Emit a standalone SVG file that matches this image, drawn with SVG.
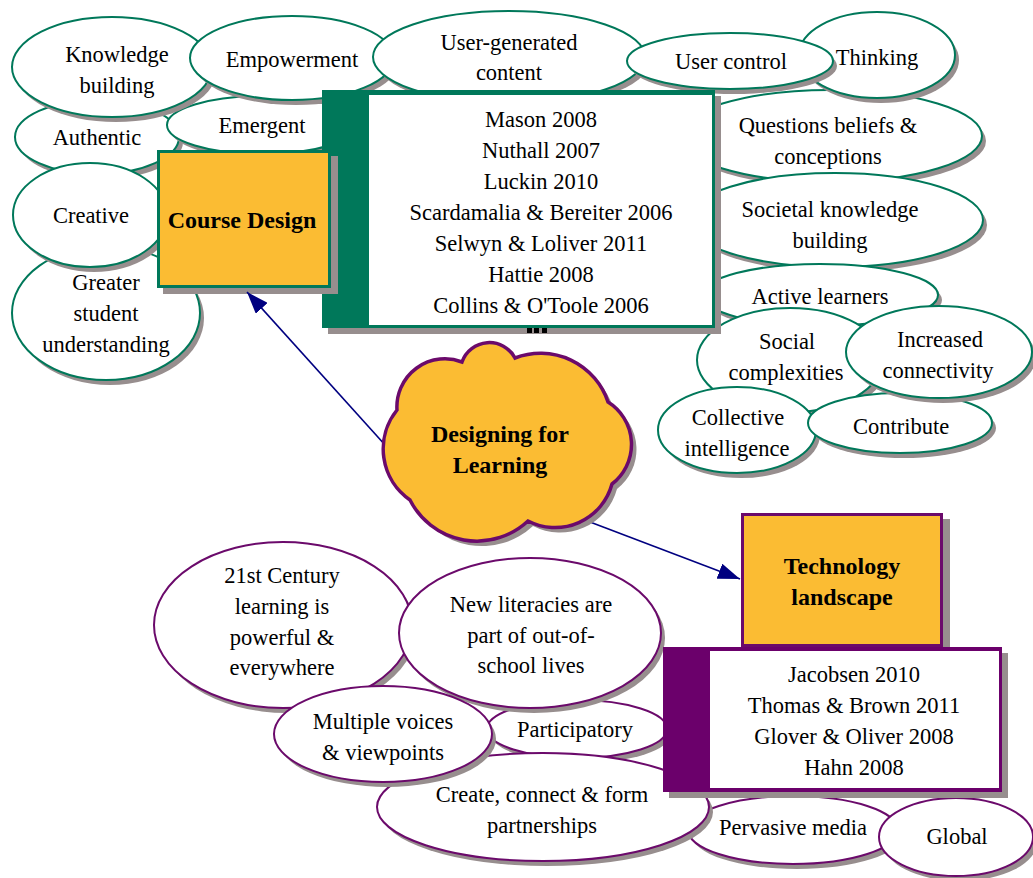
<svg xmlns="http://www.w3.org/2000/svg" width="1033" height="878" viewBox="0 0 1033 878">
<defs>
<style>
.eg{fill:#fff;stroke:#00785A;stroke-width:2}
.ep{fill:#fff;stroke:#6B0A6B;stroke-width:2}
.sh{fill:#978E8E}
.t{font-family:"Liberation Serif","Times New Roman",serif;font-size:22.5px;text-anchor:middle;fill:#000}
.b{font-weight:bold;font-size:24px}
.con{stroke:#000080;stroke-width:1.6;fill:none}
</style>
<marker id="ah" viewBox="0 0 22 16" refX="22" refY="8" markerWidth="22" markerHeight="16" markerUnits="userSpaceOnUse" orient="auto">
<path d="M0,0 L22,8 L0,16 Z" fill="#000080"/>
</marker>
</defs>
<rect width="1033" height="878" fill="#fff"/>

<g id="n-authentic"><ellipse class="sh" cx="101" cy="142" rx="82" ry="37"/><ellipse class="eg" cx="97" cy="137" rx="82" ry="37"/><text class="t" x="97" y="145">Authentic</text></g>
<g id="n-emergent"><ellipse class="sh" cx="266" cy="130" rx="95" ry="29"/><ellipse class="eg" cx="262" cy="125" rx="95" ry="29"/><text class="t" x="262" y="133">Emergent</text></g>
<g id="n-knowledge"><ellipse class="sh" cx="116" cy="72" rx="100" ry="50"/><ellipse class="eg" cx="112" cy="67" rx="100" ry="50"/><text class="t" x="117" y="62">Knowledge</text><text class="t" x="117" y="93">building</text></g>
<g id="n-empowerment"><ellipse class="sh" cx="296" cy="63" rx="102" ry="42"/><ellipse class="eg" cx="292" cy="58" rx="102" ry="42"/><text class="t" x="292" y="67">Empowerment</text></g>
<g id="n-greater"><ellipse class="sh" cx="110" cy="318" rx="94" ry="67"/><ellipse class="eg" cx="106" cy="313" rx="94" ry="67"/><text class="t" x="106" y="290">Greater</text><text class="t" x="106" y="321">student</text><text class="t" x="106" y="352">understanding</text></g>
<g id="n-creative"><ellipse class="sh" cx="94" cy="220" rx="77" ry="52"/><ellipse class="eg" cx="90" cy="215" rx="77" ry="52"/><text class="t" x="91" y="223">Creative</text></g>

<g id="n-questions"><ellipse class="sh" cx="834" cy="141" rx="152" ry="46"/><ellipse class="eg" cx="830" cy="136" rx="152" ry="46"/><text class="t" x="828" y="133">Questions beliefs &amp;</text><text class="t" x="828" y="164">conceptions</text></g>
<g id="n-societal"><ellipse class="sh" cx="839" cy="225" rx="148" ry="47"/><ellipse class="eg" cx="835" cy="220" rx="148" ry="47"/><text class="t" x="830" y="217">Societal knowledge</text><text class="t" x="830" y="248">building</text></g>
<g id="n-active"><ellipse class="sh" cx="824" cy="300" rx="118" ry="31"/><ellipse class="eg" cx="820" cy="295" rx="118" ry="31"/><text class="t" x="820" y="304">Active learners</text></g>
<g id="n-social"><ellipse class="sh" cx="794" cy="365" rx="93" ry="52"/><ellipse class="eg" cx="790" cy="360" rx="93" ry="52"/><text class="t" x="787" y="349">Social</text><text class="t" x="786" y="380">complexities</text></g>
<g id="n-collective"><ellipse class="sh" cx="741" cy="435" rx="79" ry="43"/><ellipse class="eg" cx="737" cy="430" rx="79" ry="43"/><text class="t" x="738" y="425">Collective</text><text class="t" x="737" y="456">intelligence</text></g>
<g id="n-contribute"><ellipse class="sh" cx="904" cy="428" rx="92" ry="30"/><ellipse class="eg" cx="900" cy="423" rx="92" ry="30"/><text class="t" x="901" y="434">Contribute</text></g>
<g id="n-increased"><ellipse class="sh" cx="943" cy="357" rx="93" ry="46"/><ellipse class="eg" cx="939" cy="352" rx="93" ry="46"/><text class="t" x="940" y="347">Increased</text><text class="t" x="938" y="378">connectivity</text></g>
<g id="n-thinking"><ellipse class="sh" cx="881" cy="60" rx="78" ry="43"/><ellipse class="eg" cx="877" cy="55" rx="78" ry="43"/><text class="t" x="877" y="65">Thinking</text></g>
<g id="n-usergen"><ellipse class="sh" cx="513" cy="62" rx="136" ry="46"/><ellipse class="eg" cx="509" cy="57" rx="136" ry="46"/><text class="t" x="509" y="50">User-generated</text><text class="t" x="509" y="80">content</text></g>
<g id="n-usercontrol"><ellipse class="sh" cx="734" cy="66" rx="103" ry="28"/><ellipse class="eg" cx="730" cy="61" rx="103" ry="28"/><text class="t" x="731" y="69">User control</text></g>

<g id="n-refs1">
<rect x="328" y="96" width="393" height="238" class="sh"/>
<rect x="322" y="90" width="393" height="238" fill="#00785A"/>
<rect x="369" y="95" width="343" height="230" fill="#fff"/>
<text class="t" x="541" y="127">Mason 2008</text>
<text class="t" x="541" y="158">Nuthall 2007</text>
<text class="t" x="541" y="189">Luckin 2010</text>
<text class="t" x="541" y="220">Scardamalia &amp; Bereiter 2006</text>
<text class="t" x="541" y="251">Selwyn &amp; Loliver 2011</text>
<text class="t" x="541" y="282">Hattie 2008</text>
<text class="t" x="541" y="313">Collins &amp; O'Toole 2006</text>
<rect x="527" y="328" width="5" height="5" fill="#000"/><rect x="534" y="328" width="5" height="5" fill="#000"/><rect x="542" y="328" width="5" height="5" fill="#000"/>
</g>
<g id="n-course">
<rect x="163" y="156" width="175" height="138" class="sh"/>
<rect x="158.5" y="151.5" width="171" height="135" fill="#FBBC33" stroke="#00785A" stroke-width="3"/>
<text class="t b" x="242" y="228">Course Design</text>
</g>

<g id="connectors">
<line class="con" x1="386" y1="446" x2="247" y2="292" marker-end="url(#ah)"/>
<line class="con" x1="590" y1="522" x2="740" y2="579" marker-end="url(#ah)"/>
</g>

<g id="n-cloud">
<path transform="translate(5,5)" class="sh" d="M397 410 A48 48 0 0 1 462 362 A29 29 0 0 1 515 358 A71 71 0 0 1 608 402 A50 50 0 0 1 612 484 A59 59 0 0 1 528 521 A75 75 0 0 1 410 500 A62 62 0 0 1 397 410 Z"/>
<path fill="#FBBC33" stroke="#6B0A6B" stroke-width="3.5" d="M397 410 A48 48 0 0 1 462 362 A29 29 0 0 1 515 358 A71 71 0 0 1 608 402 A50 50 0 0 1 612 484 A59 59 0 0 1 528 521 A75 75 0 0 1 410 500 A62 62 0 0 1 397 410 Z"/>
<text class="t b" x="500" y="442">Designing for</text>
<text class="t b" x="500" y="473">Learning</text>
</g>

<g id="n-21st"><ellipse class="sh" cx="287" cy="630" rx="129" ry="83"/><ellipse class="ep" cx="283" cy="625" rx="129" ry="83"/><text class="t" x="282" y="583">21st Century</text><text class="t" x="282" y="614">learning is</text><text class="t" x="282" y="645">powerful &amp;</text><text class="t" x="282" y="675">everywhere</text></g>
<g id="n-participatory"><ellipse class="sh" cx="581" cy="734" rx="90" ry="29"/><ellipse class="ep" cx="577" cy="729" rx="90" ry="29"/><text class="t" x="575" y="737">Participatory</text></g>
<g id="n-pervasive"><ellipse class="sh" cx="797" cy="835" rx="105" ry="34"/><ellipse class="ep" cx="793" cy="830" rx="105" ry="34"/><text class="t" x="793" y="835">Pervasive media</text></g>
<g id="n-create"><ellipse class="sh" cx="547" cy="812" rx="166" ry="54"/><ellipse class="ep" cx="543" cy="807" rx="166" ry="54"/><text class="t" x="542" y="802">Create, connect &amp; form</text><text class="t" x="542" y="833">partnerships</text></g>
<g id="n-newlit"><ellipse class="sh" cx="534" cy="638" rx="131" ry="75"/><ellipse class="ep" cx="530" cy="633" rx="131" ry="75"/><text class="t" x="531" y="612">New literacies are</text><text class="t" x="531" y="643">part of out-of-</text><text class="t" x="531" y="673">school lives</text></g>
<g id="n-multiple"><ellipse class="sh" cx="387" cy="739" rx="109" ry="48"/><ellipse class="ep" cx="383" cy="734" rx="109" ry="48"/><text class="t" x="383" y="729">Multiple voices</text><text class="t" x="383" y="760">&amp; viewpoints</text></g>
<g id="n-global"><ellipse class="sh" cx="960" cy="842" rx="77" ry="39"/><ellipse class="ep" cx="956" cy="837" rx="77" ry="39"/><text class="t" x="957" y="844">Global</text></g>

<g id="n-tech">
<rect x="748" y="519" width="202" height="134" class="sh"/>
<rect x="742.5" y="514.5" width="199" height="131" fill="#FBBC33" stroke="#6B0A6B" stroke-width="3"/>
<text class="t b" x="842" y="574">Technology</text>
<text class="t b" x="842" y="605">landscape</text>
</g>
<g id="n-refs2">
<rect x="669" y="653" width="339" height="145" class="sh"/>
<rect x="663" y="647" width="339" height="145" fill="#6B006B"/>
<rect x="710" y="651" width="289" height="137" fill="#fff"/>
<text class="t" x="854" y="682">Jacobsen 2010</text>
<text class="t" x="854" y="713">Thomas &amp; Brown 2011</text>
<text class="t" x="854" y="744">Glover &amp; Oliver 2008</text>
<text class="t" x="854" y="775">Hahn 2008</text>
</g>
</svg>
